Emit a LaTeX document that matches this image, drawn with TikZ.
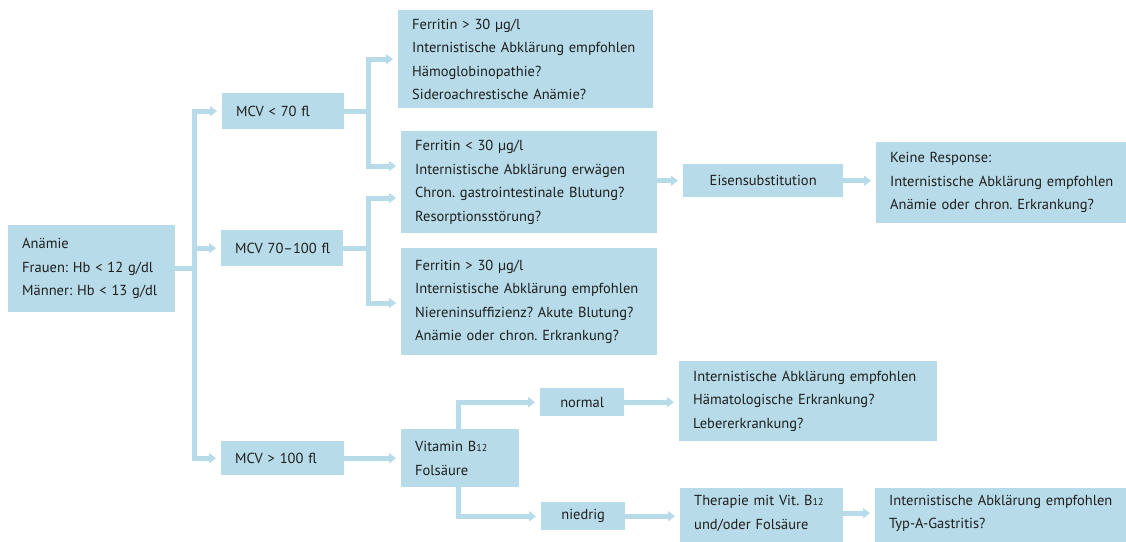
\documentclass[tikz,border=0pt]{standalone}
\usepackage{fontspec}
\setmainfont{PT Sans}
\frenchspacing
\usetikzlibrary{arrows.meta,calc}
\definecolor{boxblue}{HTML}{B7DBE9}
\definecolor{txt}{HTML}{1E1E1E}
\tikzset{
  box/.style={fill=boxblue, text=txt, inner xsep=14pt, inner ysep=0pt,
    anchor=north west, align=left, font=\fontsize{14.5}{23.5}\selectfont},
  cbox/.style={box, align=center, inner xsep=0pt},
  conn/.style={draw=boxblue, line width=5pt},
  arr/.style={conn, -{Triangle[length=7pt,width=10pt]}, shorten >=5pt},
}
\newcommand\Bzw{B{\fontsize{10}{10}\selectfont 12}}
\newcommand\nb[1]{\mbox{#1}}
\begin{document}
\begin{tikzpicture}[x=1pt,y=-1pt]
\useasboundingbox[fill=white] (0,0) rectangle (1126,541);
% boxes
\node[box, minimum width=167pt, minimum height=87pt, text width=139pt] (anaemie) at (8,225)
  {Anämie\\\nb{Frauen: Hb < 12 g/dl}\\\nb{Männer: Hb < 13 g/dl}};
\node[box, minimum width=122pt, minimum height=36pt, text width=94pt] (mcvA) at (222,93) {\nb{MCV < 70 fl}};
\node[box, minimum width=122pt, minimum height=36pt, text width=94pt] (mcvB) at (221,230) {\nb{MCV 70–100 fl}};
\node[box, minimum width=123pt, minimum height=34pt, text width=95pt] (mcvC) at (221,441) {\nb{MCV > 100 fl}};
\node[box, minimum width=255pt, minimum height=98pt, text width=227pt] (F1) at (398,10)
  {\nb{Ferritin > 30 µg/l}\\\nb{Internistische Abklärung empfohlen}\\Hämoglobinopathie?\\\nb{Sideroachrestische Anämie?}};
\node[box, minimum width=256pt, minimum height=102pt, text width=228pt] (F2) at (401,131)
  {\nb{Ferritin < 30 µg/l}\\\nb{Internistische Abklärung erwägen}\\\nb{Chron. gastrointestinale Blutung?}\\Resorptionsstörung?};
\node[box, minimum width=256pt, minimum height=107pt, text width=228pt] (F3) at (401,248)
  {\nb{Ferritin > 30 µg/l}\\\nb{Internistische Abklärung empfohlen}\\\nb{Niereninsuffizienz? Akute Blutung?}\\\nb{Anämie oder chron. Erkrankung?}};
\node[cbox, minimum width=160pt, minimum height=33pt, text width=160pt] (Eisen) at (683,164) {Eisensubstitution};
\node[box, minimum width=250pt, minimum height=81pt, text width=222pt] (Keine) at (876,142)
  {\nb{Keine Response:}\\\nb{Internistische Abklärung empfohlen}\\\nb{Anämie oder chron. Erkrankung?}};
\node[box, minimum width=118pt, minimum height=58pt, text width=90pt] (Vit) at (401,429)
  {\nb{Vitamin \Bzw}\\Folsäure};
\node[cbox, minimum width=84pt, minimum height=28pt, text width=84pt] (normal) at (540,388) {normal};
\node[cbox, minimum width=84pt, minimum height=28pt, text width=84pt] (niedrig) at (541,502) {niedrig};
\node[box, minimum width=258pt, minimum height=80pt, text width=230pt] (IntH) at (679,361)
  {\nb{Internistische Abklärung empfohlen}\\\nb{Hämatologische Erkrankung?}\\Lebererkrankung?};
\node[box, minimum width=163pt, minimum height=50pt, text width=135pt] (Ther) at (680,488)
  {\nb{Therapie mit Vit. \Bzw}\\\nb{und/oder Folsäure}};
\node[box, minimum width=251pt, minimum height=50pt, text width=223pt] (TypA) at (875,488)
  {\nb{Internistische Abklärung empfohlen}\\Typ-A-Gastritis?};
\fill[boxblue] (Ther.south west) rectangle ++(163,5);
\fill[boxblue] (TypA.south west) rectangle ++(251,5);
% trunk coordinates
\coordinate (ta) at (194,0);
\coordinate (tb) at (368,0);
\coordinate (tc) at (458,0);
\coordinate (f2inA) at ($(F2.north west)+(0,35)$);
\coordinate (f2inB) at ($(F2.north west)+(0,67)$);
\coordinate (f3in) at ($(F3.north west)+(0,55)$);
% main trunk
\draw[conn] (anaemie.east) -- (anaemie.east -| ta);
\draw[conn, line cap=rect] (ta |- mcvA.west) -- (ta |- mcvC.west);
\draw[arr] (ta |- mcvA.west) -- (mcvA.west);
\draw[arr] (ta |- mcvB.west) -- (mcvB.west);
\draw[arr] (ta |- mcvC.west) -- (mcvC.west);
% MCV < 70
\draw[conn] (mcvA.east) -- (mcvA.east -| tb);
\draw[conn, line cap=rect] (tb |- F1.west) -- (tb |- f2inA);
\draw[arr] (tb |- F1.west) -- (F1.west);
\draw[arr] (tb |- f2inA) -- (f2inA);
% MCV 70-100
\draw[conn] (mcvB.east) -- (mcvB.east -| tb);
\draw[conn, line cap=rect] (tb |- f2inB) -- (tb |- f3in);
\draw[arr] (tb |- f2inB) -- (f2inB);
\draw[arr] (tb |- f3in) -- (f3in);
% iron
\draw[arr] (F2.east |- Eisen.west) -- (Eisen.west);
\draw[arr] (Eisen.east) -- (Eisen.east -| Keine.west);
% MCV > 100
\draw[arr] (mcvC.east) -- (mcvC.east -| Vit.west);
\draw[arr] (tc |- Vit.north) |- (normal.west);
\draw[arr] (tc |- Vit.south) |- (niedrig.west);
\draw[arr] (normal.east) -- (normal.east -| IntH.west);
\draw[arr] (niedrig.east) -- (niedrig.east -| Ther.west);
\draw[arr] (Ther.east) -- (Ther.east -| TypA.west);
\end{tikzpicture}
\end{document}
